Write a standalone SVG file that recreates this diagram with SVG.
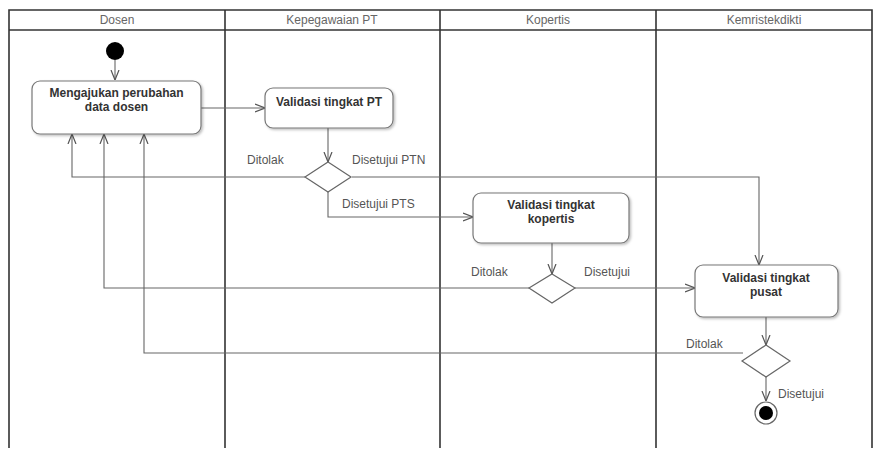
<svg xmlns="http://www.w3.org/2000/svg" width="875" height="457" viewBox="0 0 875 457">
<defs>
<marker id="arr" viewBox="0 0 10 10" refX="10" refY="5" markerWidth="10" markerHeight="10" markerUnits="userSpaceOnUse" orient="auto">
<path d="M0,1 L10,5 L0,9" fill="none" stroke="#555" stroke-width="1.2"/>
</marker>
<filter id="sh" x="-10%" y="-10%" width="130%" height="140%">
<feDropShadow dx="1.5" dy="1.5" stdDeviation="1" flood-color="#000" flood-opacity="0.25"/>
</filter>
</defs>
<style>
.lane{fill:none;stroke:#333;stroke-width:1.6}
.hdr{font-family:"Liberation Sans",Arial,sans-serif;font-size:12px;fill:#666;text-anchor:middle}
.box{fill:#fff;stroke:#777;stroke-width:1.2;filter:url(#sh)}
.dia{fill:#fff;stroke:#666;stroke-width:1.2}
.t{font-family:"Liberation Sans",Arial,sans-serif;font-size:12px;font-weight:bold;fill:#333;text-anchor:middle}
.lbl{font-family:"Liberation Sans",Arial,sans-serif;font-size:12px;fill:#555}
.c{fill:none;stroke:#666;stroke-width:1.1}
</style>
<rect width="875" height="457" fill="#fff"/>
<g id="swimlanes">
<polyline class="lane" points="9,448 9,10 872,10 872,448"/>
<line class="lane" x1="9" y1="30" x2="872" y2="30"/>
<line class="lane" x1="225" y1="10" x2="225" y2="448"/>
<line class="lane" x1="440" y1="10" x2="440" y2="448"/>
<line class="lane" x1="656" y1="10" x2="656" y2="448"/>
<text class="hdr" x="117" y="24">Dosen</text>
<text class="hdr" x="332" y="24">Kepegawaian PT</text>
<text class="hdr" x="548" y="24">Kopertis</text>
<text class="hdr" x="764" y="24">Kemristekdikti</text>
</g>
<g id="connectors">
<line class="c" x1="115" y1="60" x2="115" y2="80" marker-end="url(#arr)"/>
<line class="c" x1="201" y1="108" x2="265" y2="108" marker-end="url(#arr)"/>
<line class="c" x1="328" y1="128" x2="328" y2="162" marker-end="url(#arr)"/>
<polyline class="c" points="305,177 72,177 72,134" marker-end="url(#arr)"/>
<polyline class="c" points="352,177 759,177 759,265" marker-end="url(#arr)"/>
<polyline class="c" points="328,192 328,217 473,217" marker-end="url(#arr)"/>
<line class="c" x1="552" y1="243" x2="552" y2="274" marker-end="url(#arr)"/>
<polyline class="c" points="529,288 104,288 104,134" marker-end="url(#arr)"/>
<line class="c" x1="575" y1="288" x2="695" y2="288" marker-end="url(#arr)"/>
<line class="c" x1="766" y1="317" x2="766" y2="345" marker-end="url(#arr)"/>
<polyline class="c" points="743,353 144,353 144,134" marker-end="url(#arr)"/>
<line class="c" x1="766" y1="377" x2="766" y2="401" marker-end="url(#arr)"/>
<text class="lbl" x="247" y="164">Ditolak</text>
<text class="lbl" x="352" y="164">Disetujui PTN</text>
<text class="lbl" x="342" y="208">Disetujui PTS</text>
<text class="lbl" x="471" y="276">Ditolak</text>
<text class="lbl" x="584" y="276">Disetujui</text>
<text class="lbl" x="686" y="348">Ditolak</text>
<text class="lbl" x="778" y="398">Disetujui</text>
</g>
<g id="start"><circle cx="115" cy="51" r="9" fill="#000"/></g>
<g id="mengajukan">
<rect class="box" x="32" y="81" width="169" height="53" rx="8"/>
<text class="t" x="116.5" y="97">Mengajukan perubahan</text>
<text class="t" x="116.5" y="111">data dosen</text>
</g>
<g id="validasi-pt">
<rect class="box" x="265" y="88" width="128" height="40" rx="8"/>
<text class="t" x="329" y="106">Validasi tingkat PT</text>
</g>
<g id="decision-pt"><polygon class="dia" points="328,162 351,177 328,192 305,177"/></g>
<g id="validasi-kopertis">
<rect class="box" x="473" y="193" width="156" height="50" rx="8"/>
<text class="t" x="551" y="209">Validasi tingkat</text>
<text class="t" x="551" y="223">kopertis</text>
</g>
<g id="decision-kopertis"><polygon class="dia" points="552,274 575,288 552,303 529,288"/></g>
<g id="validasi-pusat">
<rect class="box" x="695" y="265" width="143" height="52" rx="8"/>
<text class="t" x="766" y="282">Validasi tingkat</text>
<text class="t" x="766" y="296">pusat</text>
</g>
<g id="decision-pusat"><polygon class="dia" points="766,345 790,361 766,377 742,361"/></g>
<g id="end">
<circle cx="766" cy="413" r="11" fill="#fff" stroke="#666" stroke-width="1.2"/>
<circle cx="766" cy="413" r="7" fill="#000"/>
</g>
</svg>
